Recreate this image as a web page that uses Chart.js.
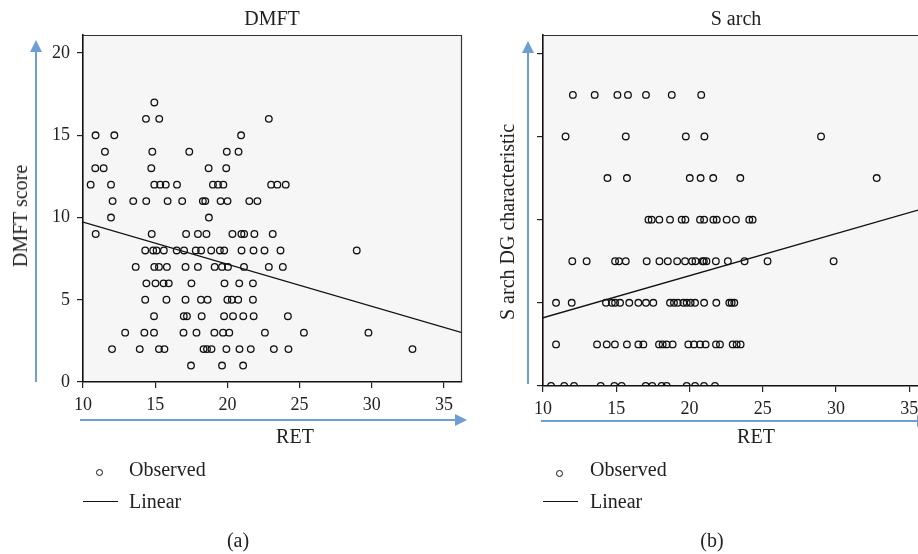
<!DOCTYPE html>
<html>
<head>
<meta charset="utf-8">
<title>DMFT and S arch vs RET</title>
<script src="https://cdn.jsdelivr.net/npm/chart.js@4.4.1/dist/chart.umd.min.js"></script>
<style>
  body { margin: 0; background: #fff; font-family: "Liberation Serif", "Times New Roman", serif; color: #222; }
  #page { position: relative; width: 918px; height: 554px; overflow: hidden; }
  .panel { position: absolute; top: 0; height: 460px; }
  .txt { position: absolute; font-size: 20px; line-height: 24px; white-space: nowrap; }
  .center { transform: translateX(-50%); }
  .vert { transform: translate(-50%, -50%) rotate(-90deg); }
  .dot { position: absolute; width: 5px; height: 5px; border: 1.3px solid #111; border-radius: 50%; }
  .dash { position: absolute; height: 1.3px; width: 35px; background: #111; }
</style>
</head>
<body>
<div id="page">
  <div class="panel" style="left:0; width:470px;"><canvas id="chartA"></canvas></div>
  <div class="panel" style="left:480px; width:438px;"><canvas id="chartB"></canvas></div>

  <div class="txt center" style="left:272px; top:6px;">DMFT</div>
  <div class="txt center" style="left:736px; top:6px;">S arch</div>

  <!-- axis titles -->
  <div class="txt vert" style="left:20px; top:216px;">DMFT score</div>
  <div class="txt vert" style="left:507px; top:222px;">S arch DG characteristic</div>
  <div class="txt center" style="left:295px; top:424px;">RET</div>
  <div class="txt center" style="left:756px; top:424px;">RET</div>

  <!-- legend (a) -->
  <div class="dot" style="left:96px; top:469px;"></div>
  <div class="txt" style="left:129px; top:457px;">Observed</div>
  <div class="dash" style="left:83px; top:501px;"></div>
  <div class="txt" style="left:129px; top:489px;">Linear</div>
  <div class="txt center" style="left:238px; top:528px;">(a)</div>

  <!-- legend (b) -->
  <div class="dot" style="left:556px; top:470px;"></div>
  <div class="txt" style="left:590px; top:457px;">Observed</div>
  <div class="dash" style="left:543px; top:501px;"></div>
  <div class="txt" style="left:590px; top:489px;">Linear</div>
  <div class="txt center" style="left:712px; top:528px;">(b)</div>
</div>

<script>
// RET values for each DMFT score (index = score 0..17)
const dmftRetByScore = [
  [],
  [17.48, 19.63, 21.09],
  [12.01, 13.93, 15.26, 15.64, 18.35, 18.59, 18.9, 19.93, 20.84, 21.62, 23.22, 24.23, 32.82],
  [12.92, 14.25, 14.92, 16.96, 17.86, 19.1, 19.7, 20.13, 22.6, 25.3, 29.77],
  [14.92, 16.98, 17.2, 18.22, 19.77, 20.39, 21.1, 21.82, 24.19],
  [14.31, 15.78, 17.1, 18.17, 18.63, 20.0, 20.31, 20.75, 21.77],
  [14.39, 15.02, 15.58, 15.94, 17.51, 19.8, 20.82, 21.77],
  [13.65, 14.94, 15.26, 15.81, 17.1, 17.96, 19.12, 19.63, 20.04, 21.15, 22.87, 23.84],
  [14.31, 14.86, 15.1, 15.6, 16.49, 17.0, 17.81, 18.18, 18.88, 19.48, 19.78, 20.98, 21.81, 22.57, 23.68, 28.96],
  [10.88, 14.76, 17.14, 17.96, 18.55, 20.35, 20.97, 21.16, 21.87, 23.14],
  [11.94, 18.72],
  [12.05, 13.48, 14.38, 15.86, 16.87, 18.3, 18.47, 19.53, 20.01, 21.52, 22.08],
  [10.53, 11.94, 14.94, 15.35, 15.73, 16.51, 19.0, 19.35, 19.72, 23.03, 23.46, 24.04],
  [10.85, 11.43, 14.73, 18.7, 19.92],
  [11.52, 14.8, 17.36, 19.96, 20.77],
  [10.87, 12.17, 20.95],
  [14.36, 15.28, 22.87],
  [14.94]
];

// RET values for each S arch DG level (index = level 0..7)
const sArchRetByLevel = [
  [10.55, 11.45, 12.12, 13.94, 14.87, 15.37, 17.01, 17.46, 18.1, 18.44, 19.81, 20.38, 20.99, 21.74],
  [10.89, 13.69, 14.35, 14.91, 15.73, 16.51, 16.85, 17.92, 18.17, 18.44, 18.85, 19.92, 20.31, 20.72, 21.1, 21.81, 22.08, 22.95, 23.22, 23.49],
  [10.89, 11.96, 14.3, 14.7, 14.92, 15.26, 15.89, 16.51, 17.03, 17.53, 18.67, 18.94, 19.2, 19.58, 19.81, 20.08, 20.38, 21.0, 21.83, 22.72, 22.88, 23.06],
  [12.0, 12.98, 14.92, 15.19, 15.65, 17.08, 17.95, 18.52, 19.16, 19.7, 20.18, 20.41, 20.89, 20.98, 21.16, 21.8, 22.62, 23.76, 25.33, 29.84],
  [17.2, 17.42, 17.94, 18.67, 19.47, 19.72, 20.72, 21.0, 21.63, 21.86, 22.54, 23.17, 24.08, 24.31],
  [14.4, 15.73, 20.02, 20.76, 21.62, 23.47, 32.78],
  [11.54, 15.65, 19.75, 21.02, 28.98],
  [12.04, 13.53, 15.08, 15.8, 17.03, 18.79, 20.8]
];

// fitted linear lines (end points)
const dmftFitX = [10, 36.25];
const dmftFitY = [9.72, 3.0];
const sArchFitX = [10, 35.6];
const sArchFitY = [1.64, 4.23];

const FONT = "'Liberation Serif', 'Times New Roman', serif";
const ARROW = "#6f9fd2";

function toPoints(rows) {
  return rows.flatMap((xs, y) => xs.map((x) => ({ x: x, y: y })));
}

function drawArrow(ctx, x1, y1, x2, y2) {
  const ang = Math.atan2(y2 - y1, x2 - x1);
  const len = 12, half = 6;
  const bx = x2 - Math.cos(ang) * len;
  const by = y2 - Math.sin(ang) * len;
  ctx.beginPath();
  ctx.moveTo(x1, y1);
  ctx.lineTo(bx, by);
  ctx.stroke();
  ctx.beginPath();
  ctx.moveTo(x2, y2);
  ctx.lineTo(bx - Math.sin(ang) * half, by + Math.cos(ang) * half);
  ctx.lineTo(bx + Math.sin(ang) * half, by - Math.cos(ang) * half);
  ctx.closePath();
  ctx.fill();
}

// grey plot background, frame and the blue axis arrows
const plotFrame = {
  id: "plotFrame",
  beforeDraw(chart) {
    const { ctx, chartArea: a } = chart;
    ctx.save();
    ctx.fillStyle = "#f6f6f6";
    ctx.fillRect(a.left, a.top, a.right - a.left, a.bottom - a.top);
    ctx.restore();
  },
  afterDraw(chart, args, opts) {
    const { ctx, chartArea: a } = chart;
    ctx.save();
    ctx.strokeStyle = "#333";
    ctx.lineWidth = 1.2;
    ctx.beginPath();
    ctx.moveTo(a.left, a.top + 0.5);
    ctx.lineTo(a.right, a.top + 0.5);
    if (opts.rightEdge) {
      ctx.moveTo(a.right - 0.5, a.top);
      ctx.lineTo(a.right - 0.5, a.bottom);
    }
    ctx.stroke();

    ctx.strokeStyle = ARROW;
    ctx.fillStyle = ARROW;
    ctx.lineWidth = 2;
    drawArrow(ctx, opts.vx, opts.vBottom, opts.vx, opts.vTop);
    drawArrow(ctx, opts.hStart, opts.hy, opts.hEnd, opts.hy);
    ctx.restore();
  }
};

function axisStyle(extra) {
  return Object.assign({
    type: "linear",
    grid: { drawOnChartArea: false, drawTicks: true, tickLength: 6, color: "#222", lineWidth: 1.2 },
    border: { display: true, color: "#111", width: 1.6 }
  }, extra);
}

function makeChart(id, cfg) {
  const ctx = document.getElementById(id).getContext("2d");
  return new Chart(ctx, {
    type: "scatter",
    data: {
      datasets: [
        {
          label: "Observed",
          data: cfg.points,
          pointRadius: 3.3,
          pointHoverRadius: 3.3,
          pointBorderWidth: 1.3,
          pointBorderColor: "#111",
          pointBackgroundColor: "rgba(0,0,0,0)",
          clip: { left: 6, top: 6, right: 6, bottom: 0 }
        },
        {
          label: "Linear",
          type: "line",
          data: cfg.fitX.map((x, i) => ({ x: x, y: cfg.fitY[i] })),
          borderColor: "#111",
          borderWidth: 1.3,
          pointRadius: 0,
          fill: false
        }
      ]
    },
    options: {
      responsive: true,
      maintainAspectRatio: false,
      animation: false,
      layout: { autoPadding: false, padding: cfg.padding },
      plugins: {
        legend: { display: false },
        tooltip: { enabled: false },
        plotFrame: cfg.frame
      },
      scales: {
        x: axisStyle({
          min: 10,
          max: cfg.xMax,
          ticks: { stepSize: 5, includeBounds: false, color: "#222", padding: 6, font: { family: FONT, size: 18 } },
          afterFit: (s) => {
            s.height = cfg.xHeight;
            // let the last tick label run to the canvas edge
            s.paddingLeft = 0;
            s.paddingRight = 0;
          }
        }),
        y: axisStyle({
          min: 0,
          max: cfg.yMax,
          ticks: { display: cfg.yLabels, stepSize: cfg.yStep, includeBounds: false, color: "#222", padding: 7, font: { family: FONT, size: 18 } },
          afterFit: (s) => { s.width = cfg.yWidth; }
        })
      }
    },
    plugins: [plotFrame]
  });
}

document.addEventListener("DOMContentLoaded", function () {
  makeChart("chartA", {
    points: toPoints(dmftRetByScore),
    fitX: dmftFitX,
    fitY: dmftFitY,
    xMax: 36.25,
    yMax: 21.1,
    yStep: 5,
    yLabels: true,
    yWidth: 83,
    xHeight: 78,
    padding: { top: 35, right: 8, left: 0, bottom: 0 },
    frame: { rightEdge: true, vx: 36, vTop: 40, vBottom: 382, hy: 420, hStart: 80, hEnd: 467 }
  });

  makeChart("chartB", {
    points: toPoints(sArchRetByLevel),
    fitX: sArchFitX,
    fitY: sArchFitY,
    xMax: 35.6,
    yMax: 8.44,
    yStep: 2,
    yLabels: false,
    yWidth: 63,
    xHeight: 74,
    padding: { top: 35, right: 0, left: 0, bottom: 0 },
    frame: { rightEdge: false, vx: 48, vTop: 41, vBottom: 384, hy: 421, hStart: 61, hEnd: 449 }
  });
});
</script>
</body>
</html>
